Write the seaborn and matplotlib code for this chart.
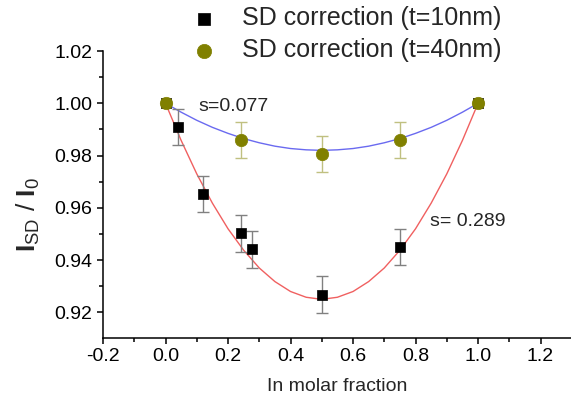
import numpy as np
import pandas as pd
import matplotlib
matplotlib.use("Agg")
import matplotlib.pyplot as plt
import seaborn as sns

# measured points
x_10nm = [0.0, 0.04, 0.12, 0.24, 0.277, 0.50, 0.75, 1.0]
y_10nm = [1.000, 0.991, 0.9653, 0.9502, 0.9441, 0.9268, 0.9451, 1.000]
err_10nm = [0.0, 0.007, 0.007, 0.007, 0.007, 0.007, 0.007, 0.0]

x_40nm = [0.0, 0.24, 0.50, 0.75, 1.0]
y_40nm = [1.000, 0.986, 0.9806, 0.986, 1.000]
err_40nm = [0.0, 0.007, 0.007, 0.007, 0.0]

# fit curves
x_fit = [0.0, 0.05, 0.10, 0.15, 0.20, 0.25, 0.30, 0.35, 0.40, 0.45, 0.50,
         0.55, 0.60, 0.65, 0.70, 0.75, 0.80, 0.85, 0.90, 0.95, 1.0]
y_fit_red = [1.000, 0.9858, 0.973, 0.9618, 0.952, 0.9438, 0.937, 0.9318, 0.928, 0.9258, 0.925,
             0.9258, 0.928, 0.9318, 0.937, 0.9438, 0.952, 0.9618, 0.973, 0.9858, 1.000]
y_fit_blue = [1.000, 0.9966, 0.9935, 0.9908, 0.9885, 0.9865, 0.9849, 0.9836, 0.9827, 0.9822, 0.982,
              0.9822, 0.9827, 0.9836, 0.9849, 0.9865, 0.9885, 0.9908, 0.9935, 0.9966, 1.000]

x_ticks = [-0.2, 0.0, 0.2, 0.4, 0.6, 0.8, 1.0, 1.2]
y_ticks = [0.92, 0.94, 0.96, 0.98, 1.00, 1.02]

label_10 = "SD correction (t=10nm)"
label_40 = "SD correction (t=40nm)"

sns.set_style("ticks")
plt.rcParams["font.family"] = ["Liberation Sans", "DejaVu Sans"]
plt.rcParams["mathtext.fontset"] = "custom"
plt.rcParams["mathtext.rm"] = "Liberation Sans"
plt.rcParams["mathtext.bf"] = "Liberation Sans:bold"

df10 = pd.DataFrame({"x": x_10nm, "y": y_10nm, "err": err_10nm})
df40 = pd.DataFrame({"x": x_40nm, "y": y_40nm, "err": err_40nm})
fit = pd.DataFrame({"x": x_fit, "red": y_fit_red, "blue": y_fit_blue})

fig = plt.figure(figsize=(5.71, 4.05), dpi=100)
ax = fig.add_axes([0.1804, 0.166, 0.821, 0.708])

sns.lineplot(data=fit, x="x", y="red", color="#f06060", lw=1.0, ax=ax, zorder=2)
sns.lineplot(data=fit, x="x", y="blue", color="#6a6af0", lw=1.0, ax=ax, zorder=2)

ax.errorbar(df10["x"], df10["y"], yerr=df10["err"], fmt="none", ecolor="#808080",
            elinewidth=1.0, capsize=4.5, capthick=1.0, zorder=3)
ax.errorbar(df40["x"], df40["y"], yerr=df40["err"], fmt="none", ecolor="#c0c080",
            elinewidth=1.0, capsize=4.5, capthick=1.0, zorder=3)

sns.scatterplot(data=df10, x="x", y="y", marker="s", s=60, color="black",
                edgecolor="black", linewidth=0.5, ax=ax, zorder=4, label=label_10)
sns.scatterplot(data=df40, x="x", y="y", marker="o", s=80, color="#808000",
                edgecolor="#808000", linewidth=0.5, ax=ax, zorder=5, label=label_40)

ax.text(0.104, 0.99717, "s=0.077", fontsize=14, va="baseline", ha="left")
ax.text(0.8455, 0.95315, "s= 0.289", fontsize=14, va="baseline", ha="left")

ax.set_xlim(-0.2, 1.3)
ax.set_ylim(0.9103, 1.02)
ax.set_xticks(x_ticks)
ax.set_xticklabels([f"{v:.1f}" for v in x_ticks])
ax.set_yticks(y_ticks)
ax.set_yticklabels([f"{v:.2f}" for v in y_ticks])
ax.xaxis.set_minor_locator(matplotlib.ticker.MultipleLocator(0.1))
ax.yaxis.set_minor_locator(matplotlib.ticker.MultipleLocator(0.01))
ax.tick_params(which="major", direction="out", length=4, width=1.1, labelsize=14,
               pad=3.5, color="black", labelcolor="black")
ax.tick_params(which="minor", direction="out", length=2.8, width=1.1, color="black")

for side in ["top", "right"]:
    ax.spines[side].set_visible(False)
for side in ["left", "bottom"]:
    ax.spines[side].set_linewidth(1.1)
    ax.spines[side].set_color("black")

ax.set_xlabel("In molar fraction", fontsize=14, labelpad=9)
ax.set_ylabel(r"$\mathbf{I}_{\mathrm{SD}}$ / $\mathbf{I}_{\mathrm{0}}$", fontsize=19)
ax.yaxis.set_label_coords(-0.13, 0.43)

ax.legend_.remove()
handles, labels = ax.get_legend_handles_labels()
fig.legend(handles, labels, loc="upper left", bbox_to_anchor=(0.336, 0.985),
           frameon=False, fontsize=18, handlelength=1.0, handletextpad=1.0,
           labelspacing=0.32, borderpad=0, borderaxespad=0, markerscale=1.15)

fig.savefig("out.png", dpi=100)
